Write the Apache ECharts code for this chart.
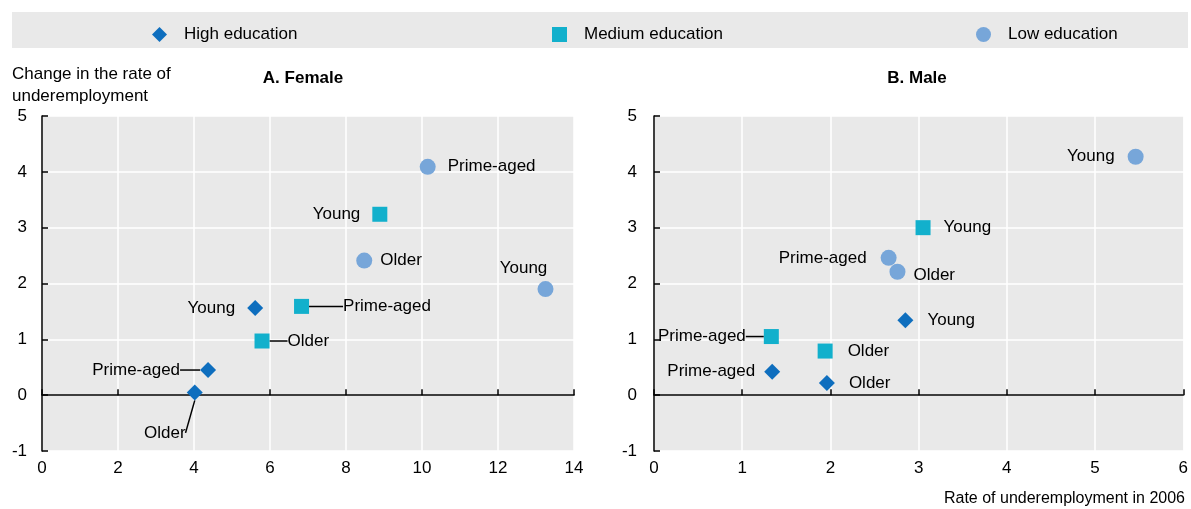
<!DOCTYPE html>
<html>
<head>
<meta charset="utf-8">
<script src="https://cdn.jsdelivr.net/npm/echarts@6/dist/echarts.min.js"></script>
<style>
  html, body { margin: 0; padding: 0; background: #fff; }
  #chart { width: 1191px; height: 509px; }
</style>
</head>
<body>
<div id="chart"></div>
<script>
// groups of age, in point order
const groups = ["Young", "Prime-aged", "Older"]
const educationLevels = ["High education", "Medium education", "Low education"]

// [rate of underemployment in 2006, change in the rate]
const femaleHigh = [[5.61, 1.56], [4.37, 0.45], [4.02, 0.05]]
const femaleMedium = [[8.89, 3.24], [6.83, 1.59], [5.79, 0.97]]
const femaleLow = [[13.25, 1.9], [10.15, 4.09], [8.48, 2.41]]

const maleHigh = [[2.85, 1.34], [1.34, 0.42], [1.96, 0.22]]
const maleMedium = [[3.05, 3.0], [1.33, 1.05], [1.94, 0.79]]
const maleLow = [[5.46, 4.27], [2.66, 2.46], [2.76, 2.21]]

const yTicks = { min: -1, max: 5, interval: 1 }
const femaleXTicks = { min: 0, max: 14, interval: 2 }
const maleXTicks = { min: 0, max: 6, interval: 1 }

const colors = ["#0e6ebe", "#12b0cc", "#77a6d9"]
const symbols = ["diamond", "rect", "circle"]
const symbolSizes = [[16, 16], [15, 15], [16, 16]]
const fontFamily = "'Liberation Sans', Arial, sans-serif"
const fontSize = 17
const textColor = "#000"

// label placement per point: [position, distance, dx, dy, guide line]
const femaleLabels = [
  [["left", 12], ["left", 20, 0, 0, true], ["bottom", 0, -30, 24, true]],
  [["left", 12], ["right", 34, 0, 0, true], ["right", 18, 0, 0, true]],
  [["top", 4, -22, 0], ["right", 12], ["right", 8]],
]
const maleLabels = [
  [["right", 14], ["left", 9], ["right", 14]],
  [["right", 13], ["left", 18, 0, 0, true], ["right", 15]],
  [["left", 13], ["left", 14], ["right", 8, 0, 4]],
]

const chart = echarts.init(document.getElementById("chart"))

const buildSeries = (points, level, gridIndex, placement) => ({
  name: educationLevels[level],
  type: "scatter",
  xAxisIndex: gridIndex * 2,
  yAxisIndex: gridIndex,
  symbol: symbols[level],
  symbolSize: symbolSizes[level],
  itemStyle: { color: colors[level], opacity: 1 },
  z: 3,
  data: points.map((p, i) => {
    const [position, distance, , , guide] = placement[level][i]
    return {
      value: p,
      name: groups[i],
      label: { position, distance },
      labelLine: { show: !!guide },
    }
  }),
  label: {
    show: true,
    formatter: "{b}",
    color: textColor,
    fontFamily,
    fontSize,
  },
  labelLine: {
    show: false,
    lineStyle: { color: "#000", width: 1.5 },
  },
  labelLayout: (params) => {
    const conf = placement[level][params.dataIndex]
    return { dx: conf[2] || 0, dy: conf[3] || 0 }
  },
})

// first axis: black line on zero with ticks, second: labels at the bottom
const xAxisPair = (gridIndex, ticks) => [
  {
    gridIndex,
    type: "value",
    position: "bottom",
    min: ticks.min,
    max: ticks.max,
    interval: ticks.interval,
    axisLine: { onZero: true, lineStyle: { color: "#000", width: 1.5 } },
    axisTick: { show: true, inside: true, length: 6, lineStyle: { color: "#000", width: 1.5 } },
    axisLabel: { show: false },
    splitLine: { show: true, lineStyle: { color: "#fff", width: 1.5 } },
  },
  {
    gridIndex,
    type: "value",
    position: "bottom",
    min: ticks.min,
    max: ticks.max,
    interval: ticks.interval,
    axisLine: { show: false, onZero: false },
    axisTick: { show: false },
    splitLine: { show: false },
    axisLabel: { color: textColor, fontFamily, fontSize, margin: 9 },
  },
]

const yAxisFor = (gridIndex, margin) => ({
  gridIndex,
  type: "value",
  position: "left",
  min: yTicks.min,
  max: yTicks.max,
  interval: yTicks.interval,
  axisLine: { show: true, onZero: false, lineStyle: { color: "#000", width: 1.5 } },
  axisTick: { show: true, inside: true, length: 6, lineStyle: { color: "#000", width: 1.5 } },
  axisLabel: { color: textColor, fontFamily, fontSize, margin },
  splitLine: { show: true, lineStyle: { color: "#fff", width: 1.5 } },
})

const legendAt = (left, level) => ({
  data: [educationLevels[level]],
  left,
  top: 26,
  padding: 0,
  itemWidth: 15,
  itemHeight: 15,
  textStyle: { color: textColor, fontFamily, fontSize, padding: [0, 0, 0, 12] },
  selectedMode: false,
})

const option = {
  animation: false,
  color: colors,
  graphic: [
    {
      type: "rect",
      left: 12,
      top: 12,
      shape: { width: 1176, height: 36 },
      style: { fill: "#e9e9e9" },
      z: -1,
    },
  ],
  legend: [legendAt(152, 0), legendAt(552, 1), legendAt(976, 2)],
  title: [
    {
      text: "A. Female",
      left: 298,
      top: 65,
      textAlign: "center",
      textStyle: { fontFamily, fontSize, fontWeight: "bold", color: textColor },
    },
    {
      text: "B. Male",
      left: 912,
      top: 65,
      textAlign: "center",
      textStyle: { fontFamily, fontSize, fontWeight: "bold", color: textColor },
    },
    {
      text: "Change in the rate of\nunderemployment",
      left: 7,
      top: 58,
      textStyle: { fontFamily, fontSize, fontWeight: "normal", color: textColor, lineHeight: 22 },
    },
    {
      text: "Rate of underemployment in 2006",
      right: 1,
      top: 486,
      textStyle: { fontFamily, fontSize: 16, fontWeight: "normal", color: textColor },
    },
  ],
  grid: [
    { left: 42, top: 116, width: 532, height: 335, show: true, backgroundColor: "#e9e9e9", borderWidth: 0 },
    { left: 654, top: 116, width: 532, height: 335, show: true, backgroundColor: "#e9e9e9", borderWidth: 0 },
  ],
  xAxis: [...xAxisPair(0, femaleXTicks), ...xAxisPair(1, maleXTicks)],
  yAxis: [yAxisFor(0, 15), yAxisFor(1, 17)],
  series: [
    buildSeries(femaleHigh, 0, 0, femaleLabels),
    buildSeries(femaleMedium, 1, 0, femaleLabels),
    buildSeries(femaleLow, 2, 0, femaleLabels),
    buildSeries(maleHigh, 0, 1, maleLabels),
    buildSeries(maleMedium, 1, 1, maleLabels),
    buildSeries(maleLow, 2, 1, maleLabels),
  ],
}

chart.setOption(option)
window.addEventListener("resize", () => chart.resize())
</script>
</body>
</html>
